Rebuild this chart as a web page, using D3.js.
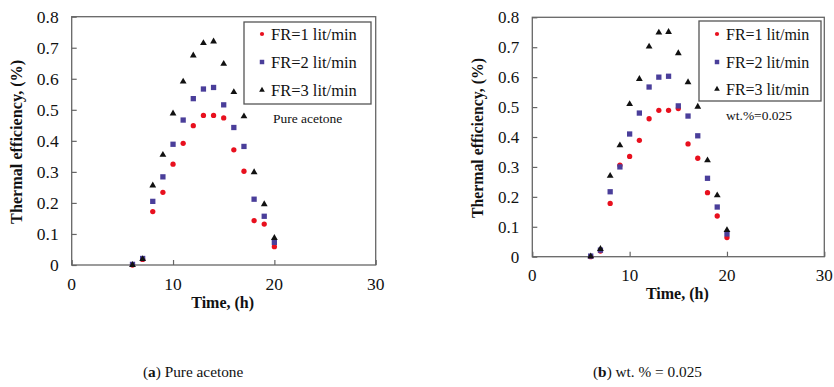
<!DOCTYPE html>
<html>
<head>
<meta charset="utf-8">
<script src="https://cdn.jsdelivr.net/npm/d3@7"></script>
<style>
  body { margin: 0; background: #fff; }
  svg text { font-family: "Liberation Serif", "Times New Roman", serif; fill: #111; }
</style>
</head>
<body>
<script>
// hours on the x axis
var hours = [6, 7, 8, 9, 10, 11, 12, 13, 14, 15, 16, 17, 18, 19, 20];

// (a) pure acetone
var acetoneFR1 = [0.000, 0.018, 0.172, 0.234, 0.325, 0.392, 0.449, 0.482, 0.482, 0.474, 0.371, 0.302, 0.143, 0.132, 0.059];
var acetoneFR2 = [0.002, 0.021, 0.205, 0.284, 0.389, 0.467, 0.536, 0.567, 0.572, 0.516, 0.443, 0.382, 0.212, 0.157, 0.073];
var acetoneFR3 = [0.000, 0.019, 0.256, 0.355, 0.488, 0.591, 0.675, 0.715, 0.720, 0.648, 0.557, 0.479, 0.299, 0.196, 0.087];

// (b) wt.% = 0.025
var nanoFR1 = [0.000, 0.019, 0.178, 0.306, 0.335, 0.389, 0.461, 0.489, 0.489, 0.495, 0.377, 0.329, 0.214, 0.136, 0.064];
var nanoFR2 = [0.002, 0.022, 0.217, 0.300, 0.410, 0.480, 0.567, 0.600, 0.603, 0.504, 0.470, 0.404, 0.262, 0.166, 0.076];
var nanoFR3 = [0.001, 0.026, 0.270, 0.372, 0.510, 0.594, 0.702, 0.749, 0.751, 0.680, 0.583, 0.501, 0.322, 0.205, 0.089];

var seriesNames = ["FR=1 lit/min", "FR=2 lit/min", "FR=3 lit/min"];
var xTicks = [0, 10, 20, 30];
var yTicks = [0, 0.1, 0.2, 0.3, 0.4, 0.5, 0.6, 0.7, 0.8];

var markerColor = ["#e8101e", "#4a3e9a", "#111111"];
var markerShape = [d3.symbolCircle, d3.symbolSquare, d3.symbolTriangle];

var svg = d3.select("body").append("svg")
    .attr("width", 834)
    .attr("height", 387);

var panels = [
  { left: 71.7, right: 375.7, top: 16.7, bottom: 265, series: [acetoneFR1, acetoneFR2, acetoneFR3],
    note: "Pure acetone", noteX: 273, noteY: 123,
    legend: { x: 244, y: 22, w: 127, h: 82, rows: [34, 62, 90], fs: 16.5 },
    tickFs: 17.5, xLabelY: 290, xTitleY: 308, yTitleX: 22, titleFs: 16.2,
    caption: ["a", " Pure acetone"], capX: 143 },
  { left: 532.3, right: 824.3, top: 17.3, bottom: 256.7, series: [nanoFR1, nanoFR2, nanoFR3],
    note: "wt.%=0.025", noteX: 726, noteY: 120,
    legend: { x: 699, y: 21, w: 122, h: 80, rows: [34, 62, 89], fs: 16 },
    tickFs: 17, xLabelY: 281, xTitleY: 299, yTitleX: 483, titleFs: 15.8,
    caption: ["b", " wt. % = 0.025"], capX: 593 }
];

panels.forEach(function(p) {
  var x = d3.scaleLinear().domain([0, 30]).range([p.left, p.right]);
  var y = d3.scaleLinear().domain([0, 0.8]).range([p.bottom, p.top]);
  var g = svg.append("g");

  // frame
  g.append("rect")
      .attr("x", p.left).attr("y", p.top)
      .attr("width", p.right - p.left).attr("height", p.bottom - p.top)
      .attr("fill", "none").attr("stroke", "#666").attr("stroke-width", 1.3);

  // axes with inward ticks
  var xAxis = g.append("g")
      .attr("transform", "translate(0," + p.bottom + ")")
      .call(d3.axisTop(x).tickValues(xTicks).tickSize(5).tickFormat(""));
  var yAxis = g.append("g")
      .attr("transform", "translate(" + p.left + ",0)")
      .call(d3.axisRight(y).tickValues(yTicks).tickSize(5).tickFormat(""));
  [xAxis, yAxis].forEach(function(a) {
    a.select(".domain").remove();
    a.selectAll("line").attr("stroke", "#666").attr("stroke-width", 1.2);
  });

  g.selectAll(".xl").data(xTicks).enter().append("text")
      .attr("x", function(d) { return x(d); })
      .attr("y", p.xLabelY)
      .attr("text-anchor", "middle")
      .style("font-size", p.tickFs + "px")
      .text(function(d) { return d; });

  g.selectAll(".yl").data(yTicks).enter().append("text")
      .attr("x", p.left - 13)
      .attr("y", function(d) { return y(d); })
      .attr("dy", "0.35em")
      .attr("text-anchor", "end")
      .style("font-size", p.tickFs + "px")
      .text(function(d) { return d === 0 ? "0" : d3.format(".1f")(d); });

  g.append("text")
      .attr("x", (p.left + p.right) / 2 - 1)
      .attr("y", p.xTitleY)
      .attr("text-anchor", "middle")
      .style("font-size", "16px").style("font-weight", "bold")
      .text("Time, (h)");

  g.append("text")
      .attr("transform", "translate(" + p.yTitleX + "," + ((p.top + p.bottom) / 2 + 1) + ") rotate(-90)")
      .attr("text-anchor", "middle")
      .style("font-size", p.titleFs + "px").style("font-weight", "bold")
      .text("Thermal efficiency, (%)");

  // markers
  p.series.forEach(function(vals, i) {
    var size = i === 0 ? 22 : (i === 1 ? 28 : 20);
    g.selectAll(".m" + i).data(vals).enter().append("path")
        .attr("transform", function(d, j) { return "translate(" + x(hours[j]) + "," + y(d) + ")"; })
        .attr("d", d3.symbol().type(markerShape[i]).size(size))
        .attr("fill", markerColor[i]);
  });

  // legend
  var L = p.legend;
  g.append("rect")
      .attr("x", L.x).attr("y", L.y).attr("width", L.w).attr("height", L.h)
      .attr("fill", "#fff").attr("stroke", "#555").attr("stroke-width", 1.3);
  seriesNames.forEach(function(name, i) {
    g.append("path")
        .attr("transform", "translate(" + (L.x + 18) + "," + L.rows[i] + ")")
        .attr("d", d3.symbol().type(markerShape[i]).size(i === 1 ? 20 : 14))
        .attr("fill", markerColor[i]);
    g.append("text")
        .attr("x", L.x + 27).attr("y", L.rows[i]).attr("dy", "0.35em")
        .style("font-size", L.fs + "px")
        .text(name);
  });

  g.append("text")
      .attr("x", p.noteX).attr("y", p.noteY)
      .style("font-size", "13.5px")
      .text(p.note);

  var cap = svg.append("text")
      .attr("x", p.capX).attr("y", 377)
      .style("font-size", "15.3px");
  cap.append("tspan").text("(");
  cap.append("tspan").style("font-weight", "bold").text(p.caption[0]);
  cap.append("tspan").text(")" + p.caption[1]);
});
</script>
</body>
</html>
